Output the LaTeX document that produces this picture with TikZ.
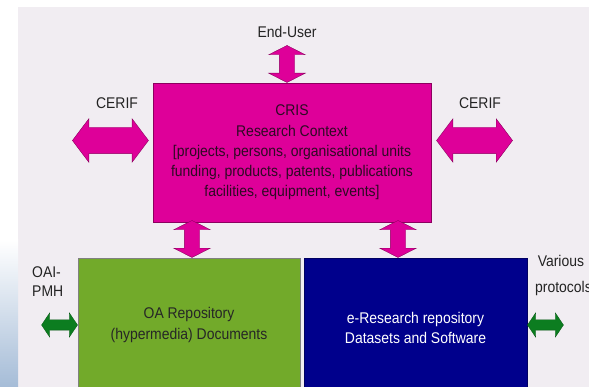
\documentclass[tikz,border=0pt]{standalone}
\usepackage{fontspec}
\setmainfont[FakeStretch=0.9]{Liberation Sans}
\usepackage{tikz}
\usetikzlibrary{positioning,shapes.arrows}
\usepackage{xcolor}

\definecolor{panelbg}{RGB}{241,237,242}
\definecolor{crismag}{RGB}{222,0,153}
\definecolor{crisedge}{RGB}{140,0,95}
\definecolor{crisink}{RGB}{45,10,35}
\definecolor{oagreen}{RGB}{114,170,42}
\definecolor{erblue}{RGB}{0,0,140}
\definecolor{protogreen}{RGB}{12,125,32}
\definecolor{labelink}{RGB}{35,35,35}
\definecolor{cloudblue}{RGB}{165,188,215}

\tikzset{
  box/.style={draw, line width=0.6pt, inner sep=0pt, align=center,
    font=\fontsize{15.5}{20.3}\selectfont},
  lbl/.style={inner sep=0pt, text=labelink, font=\fontsize{15.5}{19}\selectfont},
  magarrow/.style={shape=double arrow, fill=crismag, draw=crisedge, line width=0.4pt,
    inner xsep=0pt, text height=0pt, text depth=0pt, double arrow head indent=0pt},
  cerifarrow/.style={magarrow, minimum height=76pt, inner ysep=13pt,
    double arrow head extend=8.5pt, double arrow tip angle=106},
  linkarrow/.style={magarrow, rotate=90, anchor=west, minimum height=37pt,
    inner ysep=7.5pt, double arrow head extend=10.5pt, double arrow tip angle=126},
  protoarrow/.style={shape=double arrow, fill=protogreen, draw=protogreen!70!black,
    line width=0.3pt, inner xsep=0pt, inner ysep=5pt, text height=0pt, text depth=0pt,
    double arrow head indent=0pt, minimum height=36pt, double arrow head extend=7pt,
    double arrow tip angle=112}
}

\begin{document}
\begin{tikzpicture}[x=1pt,y=-1pt]
\useasboundingbox (0,0) rectangle (589,387);

%% slide background
\fill[panelbg] (18,7) rectangle (589,387);
\shade[top color=white, bottom color=cloudblue] (0,240) rectangle (18,387);

%% the three systems
\node[box, fill=crismag, draw=crisedge, text=crisink,
  minimum width=278pt, minimum height=139pt] (cris) at (292,152.5)
  {CRIS\\Research Context\\{[}projects, persons, organisational units\\funding, products, patents, publications\\facilities, equipment, events]};

\node[box, fill=oagreen, draw=gray, text=black!85,
  minimum width=222pt, minimum height=134pt] (oarepo) at (189,325)
  {OA Repository\\(hypermedia) Documents};

\node[box, fill=erblue, draw=erblue!70!black, text=white,
  minimum width=223pt, minimum height=140pt] (erepo) at (415.5,328)
  {e-Research repository\\Datasets and Software};

%% CRIS interfaces
\node[linkarrow] (userlink) at ([xshift=-5pt]cris.north) {};
\node[lbl] (enduser) at (287,32) {End-User};

\node[cerifarrow, left=4pt of cris.west, yshift=12pt] (cerifL) {};
\node[cerifarrow, right=5pt of cris.east, yshift=12pt] (cerifR) {};
\node[lbl] (cerifLlbl) at (117,103) {CERIF};
\node[lbl] (cerifRlbl) at (480,103) {CERIF};

\node[linkarrow] (oalink) at ([xshift=3pt]oarepo.north) {};
\node[linkarrow] (erlink) at ([xshift=-17.5pt]erepo.north) {};

%% repository protocols
\node[protoarrow, left=0pt of oarepo] (oaipmh) {};
\node[protoarrow, right=0pt of erepo, yshift=3pt] (various) {};

\node[lbl, align=left, anchor=west] (oaipmhlbl) at (32,282) {OAI-\\PMH};
\node[lbl, align=left, anchor=west, execute at begin node=\setlength{\baselineskip}{26pt}]
  (variouslbl) at (535,275) {\,Various\\protocols};

\end{tikzpicture}
\end{document}
